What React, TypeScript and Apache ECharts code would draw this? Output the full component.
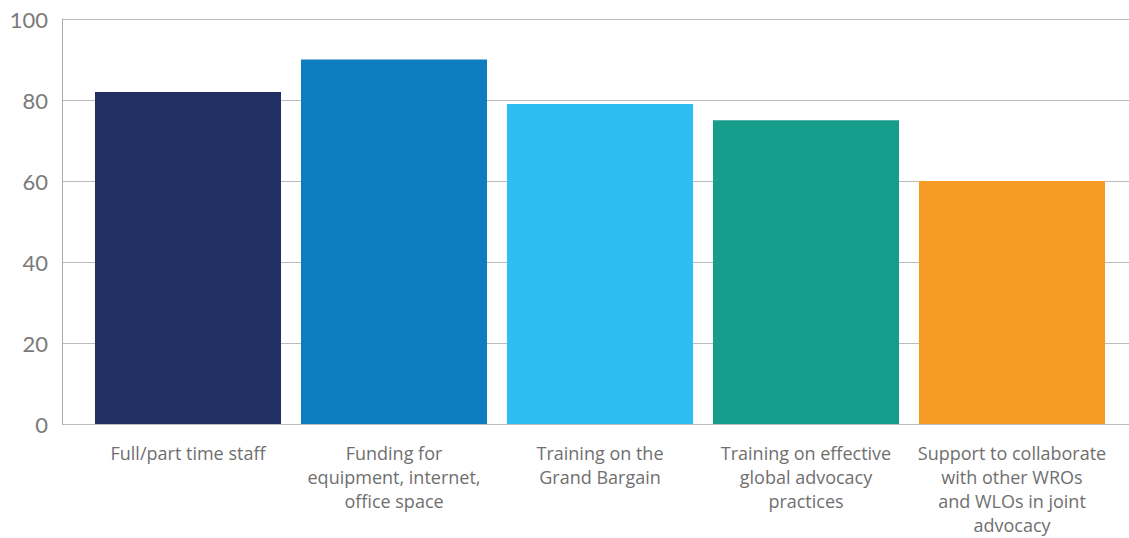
import React, { useEffect, useRef } from "react";
import * as echarts from "echarts";

const categories = [
  "Full/part time staff",
  "Funding for\nequipment, internet,\noffice space",
  "Training on the\nGrand Bargain",
  "Training on effective\nglobal advocacy\npractices",
  "Support to collaborate\nwith other WROs\nand WLOs in joint\nadvocacy",
];
const values = [82, 90, 79, 75, 60];
const colors = ["#223064", "#0E7DBF", "#2DBDF0", "#169C8A", "#F79A25"];
const yTicks = { min: 0, max: 100, interval: 20 };

export default function App() {
  const ref = useRef<HTMLDivElement>(null);
  useEffect(() => {
    const chart = echarts.init(ref.current!, null, { renderer: "svg" });
    const font = "Lato, 'Noto Sans', sans-serif";
    chart.setOption({
      animation: false,
      grid: [
        { left: 62, right: 0, top: 19, bottom: 114 },
        { left: 85, right: 14, top: 19, bottom: 114 },
      ],
      xAxis: [
        { type: "category", gridIndex: 0, data: [""], show: false },
        {
          type: "category",
          gridIndex: 1,
          data: categories,
          axisLine: { show: false },
          axisTick: { show: false },
          axisLabel: {
            color: "#6f6f6f",
            fontFamily: "'Open Sans', sans-serif",
            fontSize: 18,
            lineHeight: 24,
            margin: 17,
            verticalAlign: "top",
            interval: 0,
          },
        },
      ],
      yAxis: [
        {
          type: "value",
          gridIndex: 0,
          ...yTicks,
          axisLine: { show: true, lineStyle: { color: "#aaaaaa", width: 1 } },
          axisTick: { show: false },
          splitLine: { lineStyle: { color: "#bbbbbb", width: 1 } },
          axisLabel: { color: "#7a7a7a", fontFamily: font, fontSize: 22, margin: 14 },
        },
        {
          type: "value",
          gridIndex: 1,
          ...yTicks,
          show: false,
          splitLine: { show: false },
        },
      ],
      series: [
        {
          type: "bar",
          xAxisIndex: 1,
          yAxisIndex: 1,
          barCategoryGap: "9.7%",
          data: values.map((v, i) => ({ value: v, itemStyle: { color: colors[i] } })),
        },
      ],
    });
    return () => chart.dispose();
  }, []);
  return <div ref={ref} style={{ width: 1129, height: 538, position: "absolute", left: 0, top: 0 }} />;
}
